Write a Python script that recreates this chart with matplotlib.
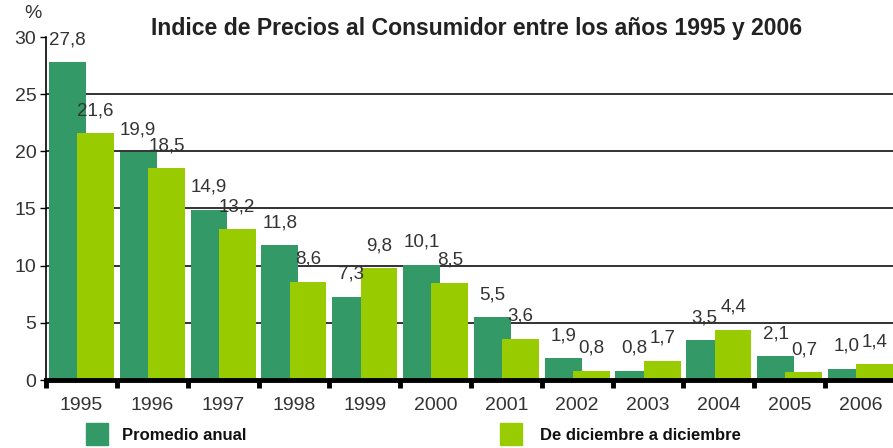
import matplotlib
matplotlib.use("Agg")
import matplotlib.pyplot as plt
from matplotlib.patches import Rectangle
import matplotlib.font_manager as fm

years = ["1995", "1996", "1997", "1998", "1999", "2000", "2001", "2002", "2003", "2004", "2005", "2006"]
promedio_anual = [27.8, 19.9, 14.9, 11.8, 7.3, 10.1, 5.5, 1.9, 0.8, 3.5, 2.1, 1.0]
dic_a_dic = [21.6, 18.5, 13.2, 8.6, 9.8, 8.5, 3.6, 0.8, 1.7, 4.4, 0.7, 1.4]
series_names = ["Promedio anual", "De diciembre a diciembre"]
title = "Indice de Precios al Consumidor entre los años 1995 y 2006"

names = {f.name for f in fm.fontManager.ttflist}
narrow = "Liberation Sans Narrow" if "Liberation Sans Narrow" in names else "Liberation Sans"

dark = "#339966"
light = "#99CC00"
txt = "#333333"

fig = plt.figure(figsize=(8.93, 4.48), dpi=100)
W, H = 893, 448
ax = fig.add_axes([46 / W, 1 - 380 / H, 850 / W, 343 / H])

x = list(range(len(years)))
bw = 0.52
off = 0.2
ax.bar([i - off for i in x], promedio_anual, width=bw, color=dark, zorder=3, label=series_names[0])
ax.bar([i + off for i in x], dic_a_dic, width=bw, color=light, zorder=4, label=series_names[1])

def fmt(v):
    return f"{v:.1f}".replace(".", ",")

for i in x:
    ax.annotate(fmt(promedio_anual[i]), (i - off, promedio_anual[i]), xytext=(0, 10),
                textcoords="offset points", ha="center", va="bottom",
                fontsize=13.5, color=txt, family=narrow, zorder=6)
    ax.annotate(fmt(dic_a_dic[i]), (i + off, dic_a_dic[i]), xytext=(0, 10),
                textcoords="offset points", ha="center", va="bottom",
                fontsize=13.5, color=txt, family=narrow, zorder=6)

ax.set_xlim(-0.5, 11.5)
ax.set_ylim(0, 30)
ax.set_yticks([0, 5, 10, 15, 20, 25, 30])
for yv in [5, 10, 15, 20, 25]:
    ax.axhline(yv, color="#222222", lw=1.3, zorder=1)

ax.set_xticks(x)
ax.set_xticklabels(years)
ax.set_xticks([i - 0.5 for i in range(len(years) + 1)], minor=True)
ax.tick_params(axis="x", which="major", length=0, pad=12, labelsize=14, labelcolor=txt)
ax.tick_params(axis="x", which="minor", length=6, width=3.5, color="black", direction="out")
ax.tick_params(axis="y", which="major", length=4, width=1, color="black", pad=3, labelsize=14, labelcolor=txt)
for lab in ax.get_xticklabels() + ax.get_yticklabels():
    lab.set_family(narrow)

for s in ["top", "right"]:
    ax.spines[s].set_visible(False)
ax.spines["bottom"].set_linewidth(3.5)
ax.spines["bottom"].set_zorder(7)
ax.spines["left"].set_linewidth(1.2)

fig.text(477 / W, 1 - 28 / H, title, ha="center", va="center", fontsize=16.6,
         fontweight="bold", color="#222222", family=narrow)
fig.text(33 / W, 1 - 14 / H, "%", ha="center", va="center", fontsize=14, color=txt, family=narrow)

# legend
for (x0, name, col, tx) in [(86, series_names[0], dark, 122), (500, series_names[1], light, 540)]:
    fig.add_artist(Rectangle((x0 / W, 1 - 445 / H), 22 / W, 22 / H, transform=fig.transFigure,
                             color=col, clip_on=False))
    fig.text(tx / W, 1 - 435 / H, name, ha="left", va="center", fontsize=12,
             fontweight="bold", color="#111111", family="Liberation Sans")

fig.savefig("out.png", dpi=100)
